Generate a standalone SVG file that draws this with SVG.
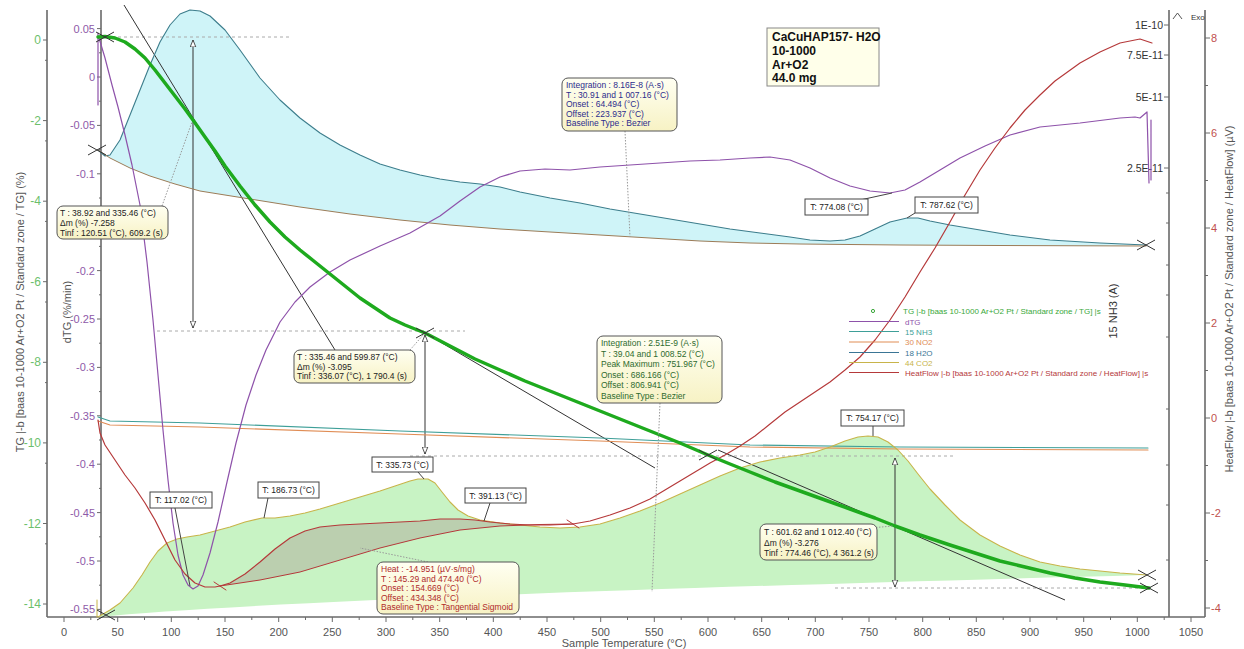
<svg xmlns="http://www.w3.org/2000/svg" width="1244" height="649" viewBox="0 0 1244 649">
<style>
text{font-family:"Liberation Sans",Arial,sans-serif}
.ax{stroke:#6a6a6a;stroke-width:1.6;fill:none}
.tk{stroke:#6a6a6a;stroke-width:1;fill:none}
.tg{fill:#6cbf6c;font-size:12px;text-anchor:end}
.dtg{fill:#8e5aa8;font-size:11px;text-anchor:end}
.ms{fill:#333;font-size:10.5px;text-anchor:end}
.hf{fill:#c0504d;font-size:11px}
.xl{fill:#555;font-size:11px;text-anchor:middle}
.ttl{fill:#555;font-size:11px;text-anchor:middle}
.ann{font-size:8.5px}
.abox{fill:url(#yg);stroke:#555;stroke-width:1}
.pbox{fill:#fff;stroke:#444;stroke-width:1}
.pt{font-size:8.5px;fill:#222;text-anchor:middle}
.lead{stroke:#999;stroke-width:1;stroke-dasharray:1.5,1.5;fill:none}
.pl{stroke:#444;stroke-width:1;fill:none}
.tan{stroke:#333;stroke-width:1;fill:none}
.dash{stroke:#aaa;stroke-width:1;stroke-dasharray:3,3;fill:none}
.lg{font-size:8px}
.c{fill:none;stroke-linejoin:round;stroke-linecap:round}
</style>
<defs>
<linearGradient id="yg" x1="0" y1="0" x2="0" y2="1"><stop offset="0" stop-color="#fffff2"/><stop offset="1" stop-color="#f7f2c4"/></linearGradient>
<path id="xm" d="M-9,-5 L9,5 M-9,5 L9,-5" stroke="#333" stroke-width="1" fill="none"/>
<marker id="ah" viewBox="0 0 10 10" refX="10" refY="5" markerWidth="7" markerHeight="7" orient="auto-start-reverse"><path d="M0,1 L10,5 L0,9 Z" fill="#fff" stroke="#333" stroke-width="1.2"/></marker>
</defs>
<rect width="1244" height="649" fill="#fff"/>

<g id="axes">
<path class="ax" d="M47,10 V617 M101,10 V617 M1169,10 V617 M1205,10 V617 M47,617 H1205"/>
<path class="tk" d="M43,40 H47 M43,120.6 H47 M43,201.2 H47 M43,281.7 H47 M43,362.3 H47 M43,442.9 H47 M43,523.5 H47 M43,604 H47 M45,60.3 H47 M45,140.9 H47 M45,221.4 H47 M45,302 H47 M45,382.6 H47 M45,463.2 H47 M45,543.8 H47"/>
<path class="tk" d="M97,28.6 H101 M97,77 H101 M97,125.4 H101 M97,173.8 H101 M97,222.2 H101 M97,270.6 H101 M97,319 H101 M97,367.4 H101 M97,415.8 H101 M97,464.2 H101 M97,512.6 H101 M97,561 H101 M97,609.4 H101 M99,52.8 H101 M99,101.2 H101 M99,149.6 H101 M99,198 H101 M99,246.4 H101 M99,294.8 H101 M99,343.2 H101 M99,391.6 H101 M99,440 H101 M99,488.4 H101 M99,536.8 H101 M99,585.2 H101"/>
<path class="tk" d="M1164,25 H1169 M1164,55 H1169 M1164,97 H1169 M1164,168 H1169 M1166,193 H1169 M1166,223 H1169 M1166,265 H1169 M1166,295 H1169 M1166,337 H1169 M1166,409 H1169 M1166,465 H1169 M1166,505 H1169 M1166,560 H1169"/>
<path class="tk" d="M1205,38 H1210 M1205,133 H1210 M1205,228 H1210 M1205,323 H1210 M1205,418 H1210 M1205,513 H1210 M1205,608 H1210 M1205,85.5 H1208 M1205,180.5 H1208 M1205,275.5 H1208 M1205,370.5 H1208 M1205,465.5 H1208 M1205,560.5 H1208"/>
<path class="tk" d="M64,617 V622 M117.7,617 V622 M171.3,617 V622 M225,617 V622 M278.7,617 V622 M332.3,617 V622 M386,617 V622 M439.7,617 V622 M493.3,617 V622 M547,617 V622 M600.7,617 V622 M654.3,617 V622 M708,617 V622 M761.7,617 V622 M815.3,617 V622 M869,617 V622 M922.7,617 V622 M976.3,617 V622 M1030,617 V622 M1083.7,617 V622 M1137.3,617 V622 M1191,617 V622 M90.8,617 V620 M144.5,617 V620 M198.2,617 V620 M251.8,617 V620 M305.5,617 V620 M359.2,617 V620 M412.8,617 V620 M466.5,617 V620 M520.2,617 V620 M573.8,617 V620 M627.5,617 V620 M681.2,617 V620 M734.8,617 V620 M788.5,617 V620 M842.2,617 V620 M895.8,617 V620 M949.5,617 V620 M1003.2,617 V620 M1056.8,617 V620 M1110.5,617 V620 M1164.2,617 V620"/>
<g class="tg"><text x="41" y="44">0</text><text x="41" y="124.6">-2</text><text x="41" y="205.2">-4</text><text x="41" y="285.7">-6</text><text x="41" y="366.3">-8</text><text x="41" y="446.9">-10</text><text x="41" y="527.5">-12</text><text x="41" y="608">-14</text></g>
<g class="dtg"><text x="95" y="32.6">0.05</text><text x="95" y="81">0</text><text x="95" y="129.4">-0.05</text><text x="95" y="177.8">-0.1</text><text x="95" y="274.6">-0.2</text><text x="95" y="323">-0.25</text><text x="95" y="371.4">-0.3</text><text x="95" y="419.8">-0.35</text><text x="95" y="468.2">-0.4</text><text x="95" y="516.6">-0.45</text><text x="95" y="565">-0.5</text><text x="95" y="613.4">-0.55</text></g>
<g class="ms"><text x="1163" y="29">1E-10</text><text x="1163" y="59">7.5E-11</text><text x="1163" y="101">5E-11</text><text x="1163" y="172">2.5E-11</text></g>
<g class="hf"><text x="1211" y="42">8</text><text x="1211" y="137">6</text><text x="1211" y="232">4</text><text x="1211" y="327">2</text><text x="1211" y="422">0</text><text x="1211" y="517">-2</text><text x="1211" y="612">-4</text></g>
<g class="xl"><text x="64" y="636">0</text><text x="117.7" y="636">50</text><text x="171.3" y="636">100</text><text x="225" y="636">150</text><text x="278.7" y="636">200</text><text x="332.3" y="636">250</text><text x="386" y="636">300</text><text x="439.7" y="636">350</text><text x="493.3" y="636">400</text><text x="547" y="636">450</text><text x="600.7" y="636">500</text><text x="654.3" y="636">550</text><text x="708" y="636">600</text><text x="761.7" y="636">650</text><text x="815.3" y="636">700</text><text x="869" y="636">750</text><text x="922.7" y="636">800</text><text x="976.3" y="636">850</text><text x="1030" y="636">900</text><text x="1083.7" y="636">950</text><text x="1137.3" y="636">1000</text><text x="1191" y="636">1050</text></g>
<text class="ttl" x="624" y="647">Sample Temperature (°C)</text>
<text class="ttl" transform="translate(24,312) rotate(-90)">TG |-b [baas 10-1000 Ar+O2 Pt / Standard zone / TG] (%)</text>
<text class="ttl" transform="translate(71,312) rotate(-90)">dTG (%/min)</text>
<text class="ttl" transform="translate(1233,299) rotate(-90)">HeatFlow |-b [baas 10-1000 Ar+O2 Pt / Standard zone / HeatFlow] (µV)</text>
<text x="0" y="0" fill="#333" font-size="11" text-anchor="middle" transform="translate(1117,311) rotate(-90)">15 NH3 (A)</text>
<path d="M1173,19 L1177.5,13 L1182,19" stroke="#555" fill="none"/>
<text x="1191" y="20" font-size="8" fill="#333">Exo</text>
</g>

<g id="fills">
<path d="M98,150 L105,156 L110,155 L120,140 L130,115 L140,90 L150,65 L160,42 L170,25 L180,14 L190,10 L200,11 L210,16 L225,30 L240,50 L260,78 L280,100 L300,118 L320,133 L340,145 L360,155 L380,164 L400,170 L420,175 L440,179 L460,182 L480,184 L500,187 L520,192 L550,198 L580,203 L610,209 L640,214 L670,219 L700,224 L730,229 L760,233 L790,237 L810,240 L830,241 L845,240 L860,236 L875,229 L890,222 L907,218 L918,218 L930,221 L950,225 L980,230 L1010,235 L1050,240 L1100,243 L1146,245 L1100,246 L1000,245.5 L900,245 L800,244 L750,243 L700,241 L650,238 L600,235 L550,232 L500,229 L450,225 L400,220 L350,214 L300,207 L250,199 L200,191 L175,184 L150,176 L130,168 L110,158 Z" fill="#cff4f8"/>
<path d="M98,617 L110,610 L120,603 L133,588 L142,575 L150,562 L158,551 L167,543 L177,539 L187,537 L200,535 L215,531 L230,527 L245,522 L262,518 L275,518 L290,516 L305,513 L320,509 L340,503 L360,497 L380,491 L395,486 L410,481 L418,479 L428,479 L435,483 L442,492 L450,502 L458,510 L468,516 L480,520 L500,523 L520,525 L540,527 L560,528 L580,527 L600,524 L620,518 L640,511 L660,503 L680,494 L700,485 L720,476 L740,468 L760,462 L780,458 L800,455 L815,452 L830,447 L845,441 L858,437 L868,436 L878,437 L888,442 L898,450 L908,461 L918,474 L930,489 L945,505 L960,520 L980,535 L1000,546 L1020,555 L1040,562 L1060,566 L1080,569 L1100,571 L1120,573 L1147,575 Q300,597 98,617 Z" fill="#c8f3c4"/>
<path d="M220,586 L230,583 L245,574 L260,562 L275,549 L290,538 L305,531 L320,527 L340,525 L360,524 L380,523 L400,522 L420,521 L440,519 L460,519 L475,520 L490,522 L510,524 L530,525 L550,525 L573,524 L540,524.5 L500,526 L460,530 L420,538 L380,548 L340,560 L300,572 L260,580 Z" fill="#a89890" fill-opacity="0.4"/>
</g>

<g id="guides">
<path class="dash" d="M100,37 H290 M157,331 H465"/>
<path class="dash" d="M410,456 H953 M835,588 H1148" stroke="#a9a0b8"/>
<path class="tan" d="M124,5 L335,350 M425,333 L655,468 M718,450 L1065,600"/>
<path class="tan" d="M193,40 V328" marker-start="url(#ah)" marker-end="url(#ah)"/>
<path class="tan" d="M425,335 V454" marker-start="url(#ah)" marker-end="url(#ah)"/>
<path class="tan" d="M895,458 V587" marker-start="url(#ah)" marker-end="url(#ah)"/>
</g>

<g id="curves">
<path class="c" stroke="#3c7d8c" stroke-width="1.1" d="M98,150 L105,156 L110,155 L120,140 L130,115 L140,90 L150,65 L160,42 L170,25 L180,14 L190,10 L200,11 L210,16 L225,30 L240,50 L260,78 L280,100 L300,118 L320,133 L340,145 L360,155 L380,164 L400,170 L420,175 L440,179 L460,182 L480,184 L500,187 L520,192 L550,198 L580,203 L610,209 L640,214 L670,219 L700,224 L730,229 L760,233 L790,237 L810,240 L830,241 L845,240 L860,236 L875,229 L890,222 L907,218 L918,218 L930,221 L950,225 L980,230 L1010,235 L1050,240 L1100,243 L1146,245"/>
<path class="c" stroke="#9c7c58" stroke-width="1" d="M98,150 L110,158 L130,168 L150,176 L175,184 L200,191 L250,199 L300,207 L350,214 L400,220 L450,225 L500,229 L550,232 L600,235 L650,238 L700,241 L750,243 L800,244 L900,245 L1000,245.5 L1146,246"/>
<path class="c" stroke="#3e9f98" stroke-width="1.1" d="M98,417 L110,421 L200,423 L400,431 L600,438 L750,445 L900,447 L1148,448"/>
<path class="c" stroke="#e08d55" stroke-width="1.1" d="M98,421 L110,425 L200,427 L400,434 L600,441 L750,447 L900,449 L1148,450"/>
<path class="c" stroke="#c8b44a" stroke-width="1.1" d="M98,617 L110,610 L120,603 L133,588 L142,575 L150,562 L158,551 L167,543 L177,539 L187,537 L200,535 L215,531 L230,527 L245,522 L262,518 L275,518 L290,516 L305,513 L320,509 L340,503 L360,497 L380,491 L395,486 L410,481 L418,479 L428,479 L435,483 L442,492 L450,502 L458,510 L468,516 L480,520 L500,523 L520,525 L540,527 L560,528 L580,527 L600,524 L620,518 L640,511 L660,503 L680,494 L700,485 L720,476 L740,468 L760,462 L780,458 L800,455 L815,452 L830,447 L845,441 L858,437 L868,436 L878,437 L888,442 L898,450 L908,461 L918,474 L930,489 L945,505 L960,520 L980,535 L1000,546 L1020,555 L1040,562 L1060,566 L1080,569 L1100,571 L1120,573 L1147,575"/>
<path class="c" stroke="#c8b44a" stroke-width="1" d="M97,600 V617"/>
<path class="c" stroke="#8e52aa" stroke-width="1.2" d="M98,33 V105 M99,38 L105,58 L112,85 L118,107 L125,135 L132,165 L140,205 L147,262 L153,320 L158,375 L163,430 L168,480 L173,523 L178,555 L183,575 L188,585 L193,589 L198,586 L203,575 L210,553 L218,522 L227,482 L236,443 L246,405 L256,375 L266,350 L280,322 L295,302 L310,287 L330,272 L350,260 L380,246 L410,233 L440,216 L460,201 L480,187 L500,177 L520,171 L545,169 L570,170 L600,167 L630,165 L660,163 L690,161 L720,160 L750,158 L770,157 L790,160 L810,168 L830,178 L850,186 L870,191 L890,193 L905,190 L920,182 L940,170 L960,158 L985,146 L1010,135 L1040,127 L1080,123 L1120,118 L1135,117 L1140,118 L1147,112 L1149,183 M1151,120 V180"/>
<path class="c" stroke="#b5393a" stroke-width="1.2" d="M98,420 L100,433 L105,445 L115,460 L125,475 L135,488 L145,503 L155,520 L165,540 L175,560 L185,574 L195,583 L205,587 L215,587 L220,586 L230,583 L245,574 L260,562 L275,549 L290,538 L305,531 L320,527 L340,525 L360,524 L380,523 L400,522 L420,521 L440,519 L460,519 L475,520 L490,522 L510,524 L530,525 L550,525 L573,524 L590,521 L610,515 L630,508 L650,499 L665,490 L680,481 L695,472 L710,463 L725,455 L740,446 L755,436 L770,424 L785,412 L800,402 L815,392 L830,382 L845,370 L860,357 L875,340 L890,320 L905,297 L920,272 L935,248 L950,222 L965,195 L980,170 L995,148 L1010,128 L1025,110 L1040,95 L1055,81 L1080,63 L1100,52 L1120,43 L1140,39 L1152,43"/>
<path class="c" stroke="#b5393a" stroke-width="1" d="M220,586 L260,580 L300,572 L340,560 L380,548 L420,538 L460,530 L500,526 L540,524.5 L573,524 M214,582 L226,590 M567,520 L579,528"/>
<path class="c" stroke="#1eaa1e" stroke-width="3.5" d="M98,37 L105,36.5 L115,38 L125,42 L135,49 L145,58 L155,70 L165,83 L175,96 L185,109 L193,120 L205,137 L215,151 L225,166 L240,186 L255,205 L270,222 L285,237 L300,250 L315,262 L330,274 L345,286 L360,298 L375,308 L390,318 L405,325 L425,333 L450,346 L475,359 L500,370 L525,381 L550,391 L575,401 L600,411 L625,421 L650,431 L680,443 L708,455 L730,464 L750,472 L775,482 L800,491 L825,500 L850,509 L875,518 L895,526 L920,535 L950,545 L975,553 L1000,561 L1025,567 L1050,573 L1075,578 L1100,582 L1125,585 L1149,588"/>
<use href="#xm" x="105" y="37"/><use href="#xm" x="97" y="150"/><use href="#xm" x="425" y="333"/><use href="#xm" x="708" y="455"/><use href="#xm" x="1149" y="588"/><use href="#xm" x="1146" y="245"/><use href="#xm" x="1147" y="575"/><use href="#xm" x="106" y="615"/>
</g>

<g id="peak-labels">
<path class="pl" d="M175,508 L190,586 M268,498 L264,518 M418,472 L424,479 M490,503 L484,521 M873,426 L873,436 M860,200 L892,193 M915,213 L907,218"/>
<rect class="pbox" x="150" y="492" width="62" height="16"/><text class="pt" x="181" y="503">T: 117.02 (°C)</text>
<rect class="pbox" x="258" y="482" width="61" height="16"/><text class="pt" x="288.5" y="493">T: 186.73 (°C)</text>
<rect class="pbox" x="372" y="457" width="61" height="15"/><text class="pt" x="402.5" y="468">T: 335.73 (°C)</text>
<rect class="pbox" x="465" y="488" width="61" height="15"/><text class="pt" x="495.5" y="499">T: 391.13 (°C)</text>
<rect class="pbox" x="841" y="410" width="63" height="16"/><text class="pt" x="872.5" y="421">T: 754.17 (°C)</text>
<rect class="pbox" x="805" y="199" width="63" height="16"/><text class="pt" x="836.5" y="210">T: 774.08 (°C)</text>
<rect class="pbox" x="915" y="197" width="63" height="16"/><text class="pt" x="946.5" y="208">T: 787.62 (°C)</text>
</g>

<g id="ann-h2o">
<path class="lead" d="M625,131 L630,237"/>
<rect class="abox" x="562" y="78" width="115" height="53" rx="6"/>
<g class="ann" fill="#2c2c8c"><text x="566" y="88">Integration : 8.16E-8 (A·s)</text><text x="566" y="97.5">T : 30.91 and 1 007.16 (°C)</text><text x="566" y="107">Onset : 64.494 (°C)</text><text x="566" y="116.5">Offset : 223.937 (°C)</text><text x="566" y="126">Baseline Type : Bezier</text></g>
</g>
<g id="ann-step1">
<path class="lead" d="M162,206 L192,122"/>
<rect class="abox" x="57" y="206" width="111" height="33" rx="6"/>
<g class="ann" fill="#222"><text x="60" y="216">T : 38.92 and 335.46 (°C)</text><text x="60" y="226">Δm (%) -7.258</text><text x="60" y="235.5">Tinf : 120.51 (°C), 609.2 (s)</text></g>
</g>
<g id="ann-step2">
<path class="lead" d="M410,350 L424,334"/>
<rect class="abox" x="294" y="350" width="121" height="33" rx="6"/>
<g class="ann" fill="#222"><text x="297" y="360">T : 335.46 and 599.87 (°C)</text><text x="297" y="369.5">Δm (%) -3.095</text><text x="297" y="379">Tinf : 336.07 (°C), 1 790.4 (s)</text></g>
</g>
<g id="ann-co2">
<path class="lead" d="M660,403 L652,592"/>
<rect class="abox" x="597" y="336" width="125" height="67" rx="6"/>
<g class="ann" fill="#2e6b2e"><text x="601" y="346">Integration : 2.51E-9 (A·s)</text><text x="601" y="356.5">T : 39.04 and 1 008.52 (°C)</text><text x="601" y="367">Peak Maximum : 751.967 (°C)</text><text x="601" y="377.5">Onset : 686.166 (°C)</text><text x="601" y="388">Offset : 806.941 (°C)</text><text x="601" y="398.5">Baseline Type : Bezier</text></g>
</g>
<g id="ann-heat">
<path class="lead" d="M428,562 L360,548"/>
<rect class="abox" x="377" y="562" width="142" height="52" rx="6"/>
<g class="ann" fill="#b02a2a"><text x="381" y="572">Heat : -14.951 (µV·s/mg)</text><text x="381" y="581.5">T : 145.29 and 474.40 (°C)</text><text x="381" y="591">Onset : 154.669 (°C)</text><text x="381" y="600.5">Offset : 434.348 (°C)</text><text x="381" y="610">Baseline Type : Tangential Sigmoid</text></g>
</g>
<g id="ann-step3">
<path class="lead" d="M870,528 L893,526"/>
<rect class="abox" x="760" y="524" width="117" height="36" rx="6"/>
<g class="ann" fill="#222"><text x="764" y="535">T : 601.62 and 1 012.40 (°C)</text><text x="764" y="545.5">Δm (%) -3.276</text><text x="764" y="556">Tinf : 774.46 (°C), 4 361.2 (s)</text></g>
</g>

<g id="title-box">
<rect x="767" y="28" width="112" height="58" fill="#ffffea" stroke="#888"/>
<g font-size="12" font-weight="bold" fill="#111"><text x="772" y="41">CaCuHAP157- H2O</text><text x="772" y="55">10-1000</text><text x="772" y="68.5">Ar+O2</text><text x="772" y="82">44.0 mg</text></g>
</g>

<g id="legend" class="lg">
<circle cx="873" cy="311" r="1.6" fill="none" stroke="#3aa83a"/>
<text x="903" y="314" fill="#3aa83a">TG |-b [baas 10-1000 Ar+O2 Pt / Standard zone / TG] |s</text>
<path d="M849,321.5 H899" stroke="#8e52aa"/><text x="905" y="324.5" fill="#8e52aa">dTG</text>
<path d="M849,331.5 H899" stroke="#3e9f98"/><text x="905" y="334.5" fill="#3e9f98">15 NH3</text>
<path d="M849,342 H899" stroke="#e08d55"/><text x="905" y="345" fill="#e08d55">30 NO2</text>
<path d="M849,352.5 H899" stroke="#3a7595"/><text x="905" y="355.5" fill="#3a7595">18 H2O</text>
<path d="M849,362.5 H899" stroke="#c8b44a"/><text x="905" y="365.5" fill="#c8b44a">44 CO2</text>
<path d="M849,372.5 H899" stroke="#b5393a"/><text x="905" y="375.5" fill="#b5393a">HeatFlow |-b [baas 10-1000 Ar+O2 Pt / Standard zone / HeatFlow] |s</text>
</g>
</svg>
